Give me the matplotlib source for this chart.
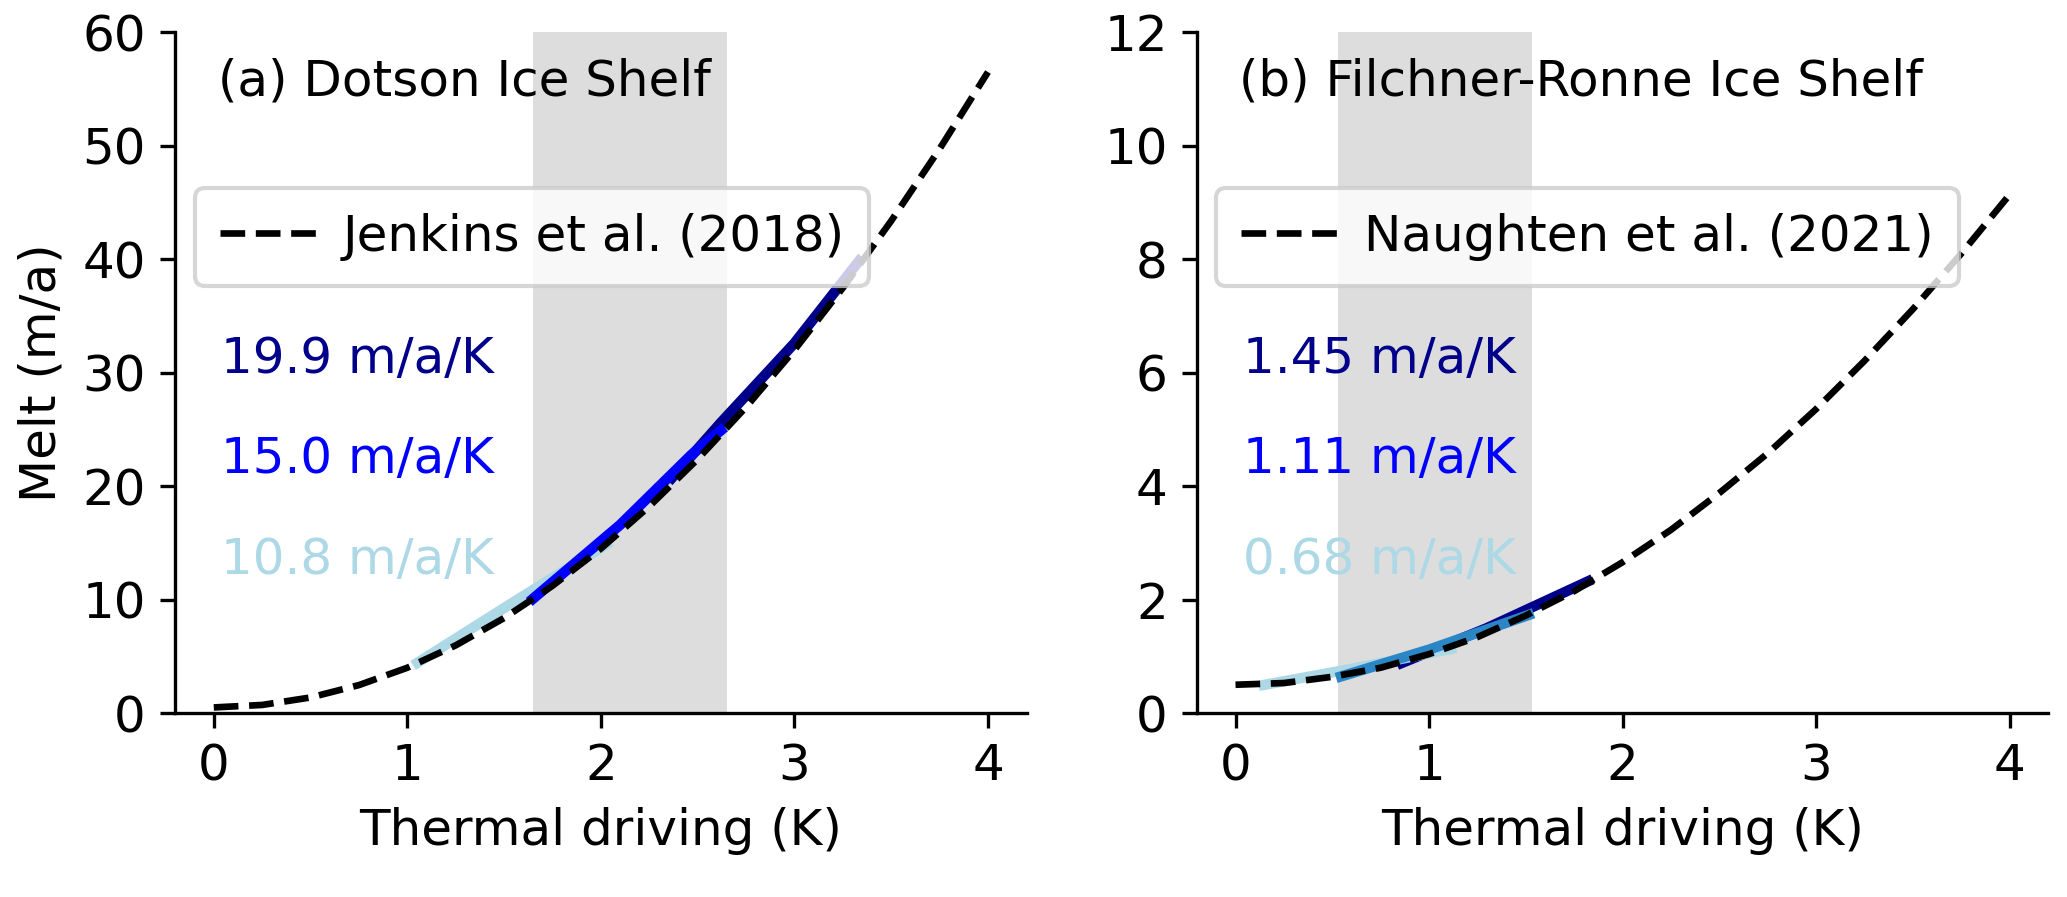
import numpy as np
import matplotlib
matplotlib.use("Agg")
import matplotlib.pyplot as plt

plt.rcParams['font.size'] = 12

# parameterisation curves
t_curve = [0.0, 0.25, 0.5, 0.75, 1.0, 1.25, 1.5, 1.75, 2.0, 2.25, 2.5, 2.75, 3.0, 3.25, 3.5, 3.75, 4.0]
melt_jenkins = [0.5, 0.72, 1.38, 2.47, 4.0, 5.97, 8.38, 11.22, 14.5, 18.22, 22.38, 26.97, 32.0, 37.47, 43.38, 49.72, 56.5]
melt_naughten = [0.50, 0.53, 0.64, 0.80, 1.04, 1.34, 1.72, 2.15, 2.66, 3.23, 3.88, 4.58, 5.36, 6.21, 7.12, 8.10, 9.14]

# simulated melt vs thermal driving, Dotson
dot_t_dark = [2.35, 2.62, 3.0, 3.35]
dot_m_dark = [20.4, 25.6, 32.6, 40.2]
dot_t_mid = [1.63, 2.1, 2.47, 2.64]
dot_m_mid = [9.8, 16.6, 22.8, 25.2]
dot_t_light = [1.03, 1.55, 2.05]
dot_m_light = [4.2, 9.8, 15.1]

# simulated melt vs thermal driving, Filchner-Ronne
fr_t_dark = [0.835, 1.3, 1.845]
fr_m_dark = [0.85, 1.5, 2.36]
fr_t_mid = [0.52, 1.0, 1.54]
fr_m_mid = [0.62, 1.12, 1.76]
fr_t_light = [0.12, 0.6, 1.14]
fr_m_light = [0.48, 0.78, 1.15]

slopes_dot = ['19.9 m/a/K', '15.0 m/a/K', '10.8 m/a/K']
slopes_fr = ['1.45 m/a/K', '1.11 m/a/K', '0.68 m/a/K']
span_dot = (1.65, 2.65)
span_fr = (0.53, 1.53)

c_dark = '#00008b'
c_light = '#add8e6'

fig = plt.figure(figsize=(2067 / 300, 897 / 300), dpi=300)
ax1 = fig.add_axes([0.0847, 0.205, 0.412, 0.759])
ax2 = fig.add_axes([0.579, 0.205, 0.412, 0.759])

panels = [
    (ax1, span_dot, [(dot_t_dark, dot_m_dark), (dot_t_light, dot_m_light), (dot_t_mid, dot_m_mid)],
     'blue', melt_jenkins, 'Jenkins et al. (2018)', '(a) Dotson Ice Shelf', slopes_dot, 60, 10),
    (ax2, span_fr, [(fr_t_dark, fr_m_dark), (fr_t_light, fr_m_light), (fr_t_mid, fr_m_mid)],
     '#2b86c6', melt_naughten, 'Naughten et al. (2021)', '(b) Filchner-Ronne Ice Shelf', slopes_fr, 12, 2),
]

for ax, span, lines, midcol, curve, lab, title, slopes, ymax, ystep in panels:
    ax.axvspan(span[0], span[1], color='#dddddd', lw=0, zorder=0)
    cols = [c_dark, c_light, midcol]
    for (t, m), c in zip(lines, cols):
        ax.plot(t, m, color=c, lw=2.5, solid_capstyle='butt', zorder=2)
    ax.plot(t_curve, curve, 'k--', lw=1.6, label=lab, zorder=3)
    ax.set_xlim(-0.2, 4.2)
    ax.set_ylim(0, ymax)
    ax.set_xticks([0, 1, 2, 3, 4])
    ax.set_yticks(np.arange(0, ymax + ystep / 2, ystep))
    ax.spines['top'].set_visible(False)
    ax.spines['right'].set_visible(False)
    ax.set_xlabel('Thermal driving (K)')
    ax.text(0.05, 0.927, title, transform=ax.transAxes, va='center', ha='left')
    ax.legend(loc='upper left', bbox_to_anchor=(0.023, 0.772), borderaxespad=0,
              handlelength=2.0, handletextpad=0.45, fontsize=12, borderpad=0.5)
    tcols = [c_dark, 'blue', c_light]
    for s, c, yy in zip(slopes, tcols, [0.52, 0.373, 0.225]):
        ax.text(0.054, yy, s, color=c, transform=ax.transAxes, va='center', ha='left', zorder=1)

ax1.set_ylabel('Melt (m/a)')

fig.savefig('out.png', dpi=300)
